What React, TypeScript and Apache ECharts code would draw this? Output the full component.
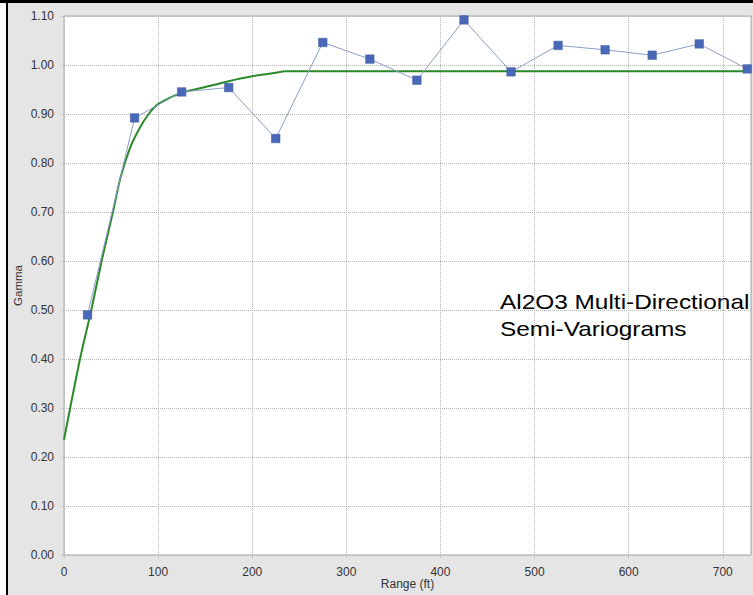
import React, { useEffect, useRef } from "react";
import * as echarts from "echarts";

const lagDistances = [25, 75, 125, 175, 225, 275, 325, 375, 425, 475, 525, 575, 625, 675, 726];
const experimentalGamma = [0.49, 0.892, 0.945, 0.954, 0.85, 1.046, 1.012, 0.969, 1.092, 0.986, 1.04, 1.031, 1.02, 1.043, 0.992];

const modelDistances = [0, 17, 29, 40, 52, 60, 70, 80, 90, 100, 125, 150, 175, 200, 225, 235, 730];
const modelGamma = [0.235, 0.4, 0.5, 0.6, 0.7, 0.77, 0.83, 0.87, 0.9, 0.92, 0.943, 0.955, 0.967, 0.977, 0.984, 0.987, 0.987];

const titleLines = ["Al2O3 Multi-Directional", "Semi-Variograms"];

export default function App() {
  const ref = useRef<HTMLDivElement>(null);
  useEffect(() => {
    if (!ref.current) return;
    const chart = echarts.init(ref.current, null, { renderer: "svg" });
    const font = "Arial, 'Liberation Sans', sans-serif";
    chart.setOption({
      animation: false,
      backgroundColor: "#e5e5e5",
      grid: {
        left: 64,
        top: 16,
        right: 2,
        bottom: 40,
        outerBoundsMode: "none",
        containLabel: false,
        show: true,
        backgroundColor: "#ffffff",
        borderColor: "#a8a8a8",
        borderWidth: 1,
      },
      xAxis: {
        type: "value",
        min: 0,
        max: 730,
        interval: 100,
        name: "Range (ft)",
        nameLocation: "middle",
        nameGap: 23,
        nameMoveOverlap: false,
        nameTextStyle: { fontFamily: font, fontSize: 12, color: "#333" },
        axisLine: { show: false },
        axisTick: { show: true, length: 4, lineStyle: { color: "#b0b0b0", type: "dotted" } },
        axisLabel: { showMaxLabel: false, fontFamily: font, fontSize: 12, color: "#333", margin: 11 },
        splitLine: { show: true, lineStyle: { color: "#b4b4b4", type: "dotted", width: 1 } },
      },
      yAxis: {
        type: "value",
        min: 0,
        max: 1.1,
        interval: 0.1,
        name: "Gamma",
        nameLocation: "middle",
        nameGap: 40,
        nameMoveOverlap: false,
        nameRotate: 90,
        nameTextStyle: { fontFamily: font, fontSize: 11.5, color: "#333" },
        axisLine: { show: false },
        axisTick: { show: true, length: 4, lineStyle: { color: "#b0b0b0", type: "dotted" } },
        axisLabel: {
          fontFamily: font,
          fontSize: 12,
          color: "#333",
          margin: 10,
          formatter: (v: number) => v.toFixed(2),
        },
        splitLine: { show: true, lineStyle: { color: "#b4b4b4", type: "dotted", width: 1 } },
      },
      series: [
        {
          type: "line",
          data: modelDistances.map((d, i) => [d, modelGamma[i]]),
          smooth: 0.3,
          showSymbol: false,
          lineStyle: { color: "#2a8a2a", width: 2 },
          z: 2,
        },
        {
          type: "line",
          data: lagDistances.map((d, i) => [d, experimentalGamma[i]]),
          symbol: "rect",
          symbolSize: 8.5,
          lineStyle: { color: "#8c9cc8", width: 1 },
          itemStyle: { color: "#4a68b8", borderColor: "#3a55a0", borderWidth: 0.5 },
          z: 3,
        },
      ],
      graphic: [
        { type: "rect", shape: { x: 0, y: 0, width: 6, height: 595 }, style: { fill: "#ffffff" }, z: 10 },
        { type: "rect", shape: { x: 6, y: 0, width: 2, height: 595 }, style: { fill: "#000000" }, z: 10 },
        { type: "rect", shape: { x: 0, y: 0, width: 753, height: 3 }, style: { fill: "#000000" }, z: 10 },
        {
          type: "text",
          x: 500,
          y: 289,
          scaleX: 1.22,
          style: {
            text: titleLines.join("\n"),
            font: "20px Arial, 'Liberation Sans', sans-serif",
            fill: "#000",
            lineHeight: 27,
          },
          z: 10,
        },
      ],
    });
    return () => chart.dispose();
  }, []);
  return <div ref={ref} style={{ position: "fixed", left: 0, top: 0, width: 753, height: 595 }} />;
}
